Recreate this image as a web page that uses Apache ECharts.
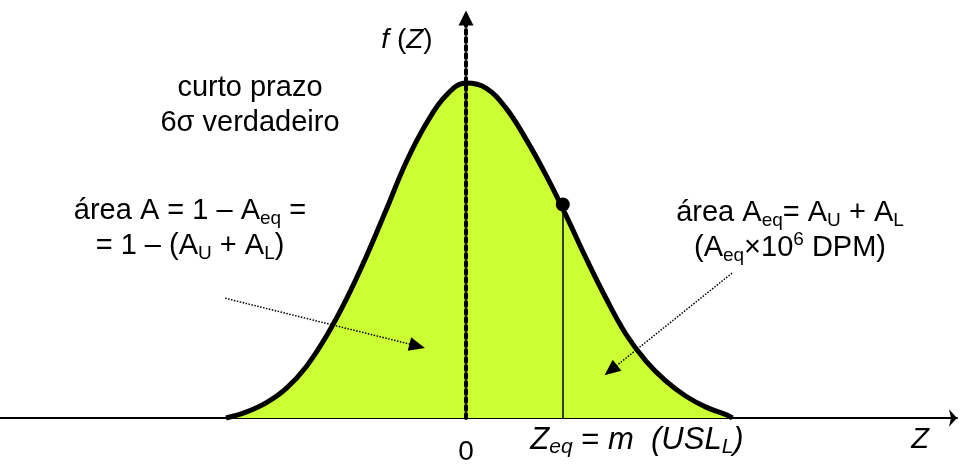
<!DOCTYPE html>
<html>
<head>
<meta charset="utf-8">
<script src="https://cdn.jsdelivr.net/npm/echarts@6/dist/echarts.min.js"></script>
<style>
  html, body { margin: 0; padding: 0; background: #fff; }
  #chart { width: 960px; height: 464px; }
</style>
</head>
<body>
<div id="chart"></div>
<script>
// curve, every 0.25 in Z
var zValues = [-3.0, -2.75, -2.5, -2.25, -2.0, -1.75, -1.5, -1.25, -1.0, -0.75, -0.5, -0.25, 0,
               0.25, 0.5, 0.75, 1.0, 1.25, 1.5, 1.75, 2.0, 2.25, 2.5, 2.75, 3.0, 3.25, 3.33];
var fValues = [0.0, 0.007, 0.018, 0.035, 0.061, 0.097, 0.141, 0.192, 0.248, 0.305, 0.351, 0.385, 0.400,
               0.394, 0.370, 0.333, 0.290, 0.242, 0.191, 0.143, 0.100, 0.068, 0.044, 0.026, 0.013, 0.004, 0.0];
// the point Zeq on the curve
var zEq = [1.21, 0.255];
// dotted pointer arrows (from, to) in Z / f units
var arrowLeft = [[-3.01, 0.143], [-0.61, 0.086]];
var arrowRight = [[3.325, 0.173], [1.81, 0.057]];

var FONT = 'Liberation Sans, Arial, sans-serif';

var curve = zValues.map(function (z, i) { return [z, fValues[i]]; });

var chart = echarts.init(document.getElementById('chart'));

var option = {
  animation: false,
  grid: { left: 0, right: 3, top: 18, bottom: 46 },
  xAxis: {
    type: 'value',
    min: -5.825,
    max: 6.1375,
    axisLine: {
      show: true,
      symbol: ['none', 'arrow'],
      symbolSize: [13, 8],
      lineStyle: { color: '#000', width: 2 }
    },
    axisTick: { show: false },
    axisLabel: { show: false },
    splitLine: { show: false }
  },
  yAxis: {
    type: 'value',
    min: 0,
    max: 0.4776,
    z: 5,
    axisLine: {
      show: true,
      onZero: true,
      symbol: ['none', 'triangle'],
      symbolSize: [15, 15],
      lineStyle: { color: '#000', width: 4, type: [4, 4] }
    },
    axisTick: { show: false },
    axisLabel: { show: false },
    splitLine: { show: false }
  },
  series: [
    {
      type: 'line',
      data: curve,
      smooth: 0.4,
      symbol: 'none',
      z: 2,
      lineStyle: { color: '#000', width: 5 },
      areaStyle: { color: '#ccff33', opacity: 1 }
    },
    {
      type: 'scatter',
      data: [zEq],
      symbol: 'circle',
      symbolSize: 14,
      z: 6,
      itemStyle: { color: '#000', opacity: 1 },
      markLine: {
        silent: true,
        symbol: ['none', 'none'],
        label: { show: false },
        lineStyle: { color: '#000', width: 1.5, type: 'solid' },
        data: [
          [{ coord: [zEq[0], 0] }, { coord: zEq }]
        ]
      }
    },
    {
      type: 'line',
      data: [],
      z: 7,
      markLine: {
        silent: true,
        symbol: ['none', 'triangle'],
        symbolSize: [14, 16],
        label: { show: false },
        lineStyle: { color: '#000', width: 1.5, type: 'dotted' },
        data: [
          [{ coord: arrowLeft[0] }, { coord: arrowLeft[1] }],
          [{ coord: arrowRight[0] }, { coord: arrowRight[1] }]
        ]
      }
    }
  ],
  graphic: [
    {
      type: 'text', x: 407, y: 40,
      style: {
        text: '{i|f} ({i|Z})', fontSize: 28, fontFamily: FONT, fill: '#000',
        align: 'center', verticalAlign: 'middle',
        rich: { i: { fontStyle: 'italic', fontSize: 28, fontFamily: FONT } }
      }
    },
    {
      type: 'text', x: 250, y: 105,
      style: {
        text: 'curto prazo\n6σ verdadeiro', fontSize: 29, fontFamily: FONT, fill: '#000',
        align: 'center', verticalAlign: 'middle', lineHeight: 35
      }
    },
    {
      type: 'text', x: 190, y: 228,
      style: {
        text: 'área A = 1 – A{s|eq} =\n= 1 – (A{s|U} + A{s|L})', fontSize: 29, fontFamily: FONT, fill: '#000',
        align: 'center', verticalAlign: 'middle', lineHeight: 35,
        rich: { s: { fontSize: 19, fontFamily: FONT, verticalAlign: 'bottom', lineHeight: 21 } }
      }
    },
    {
      type: 'text', x: 790, y: 230,
      style: {
        text: 'área A{s|eq}= A{s|U} + A{s|L}\n(A{s|eq}×10{p|6} DPM)', fontSize: 29, fontFamily: FONT, fill: '#000',
        align: 'center', verticalAlign: 'middle', lineHeight: 35,
        rich: {
          s: { fontSize: 19, fontFamily: FONT, verticalAlign: 'bottom', lineHeight: 21 },
          p: { fontSize: 19, fontFamily: FONT, verticalAlign: 'top', lineHeight: 21 }
        }
      }
    },
    {
      type: 'text', x: 466, y: 452,
      style: {
        text: '0', fontSize: 28, fontFamily: FONT, fill: '#000',
        align: 'center', verticalAlign: 'middle'
      }
    },
    {
      type: 'text', x: 637, y: 440,
      style: {
        text: '{i|Z}{s|eq} = {i|m}  {i|(USL}{s|L}{i|)}', fontSize: 31, fontFamily: FONT, fill: '#000',
        align: 'center', verticalAlign: 'middle', lineHeight: 36,
        rich: {
          i: { fontStyle: 'italic', fontSize: 31, fontFamily: FONT },
          s: { fontStyle: 'italic', fontSize: 21, fontFamily: FONT, verticalAlign: 'bottom', lineHeight: 23 }
        }
      }
    },
    {
      type: 'text', x: 920, y: 440,
      style: {
        text: 'Z', fontSize: 29, fontStyle: 'italic', fontFamily: FONT, fill: '#000',
        align: 'center', verticalAlign: 'middle'
      }
    }
  ]
};

chart.setOption(option);
</script>
</body>
</html>
